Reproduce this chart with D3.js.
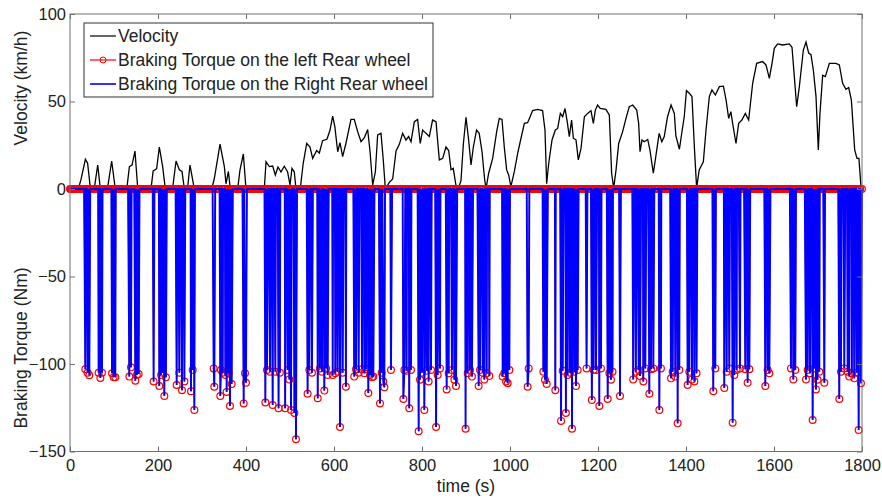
<!DOCTYPE html>
<html>
<head>
<meta charset="utf-8">
<script src="https://cdn.jsdelivr.net/npm/d3@7"></script>
<style>
  body { margin: 0; background: #fff; }
  text { font-family: "Liberation Sans", Arial, sans-serif; }
</style>
</head>
<body>
<div class="chart"></div>
<script>
var margin = {top: 14, right: 20, bottom: 46.5, left: 70}
var width = 882 - margin.left - margin.right;
var height = 498 - margin.top - margin.bottom;

// velocity (km/h)
var velTime = [0, 19, 25, 35, 40, 45.5, 48, 55, 63, 69, 85, 94.7, 103, 129, 135, 141, 147.7, 154,
  184, 189, 197, 203, 210.6, 216.7, 233, 241, 248.5, 254.5, 260, 267, 272.7, 282.6,
  322, 328, 341, 350.8, 354.5, 360, 364.4, 381, 386.4, 394, 400,
  441.6, 445.5, 453, 460.6, 466.7, 472.7, 479.5, 487, 494.6, 500, 504.5, 509.8, 513.6,
  523.5, 530, 538, 545.5, 551.5, 560.6, 566.7, 574, 584, 591, 597, 602, 608.4, 613.6, 619.7, 627,
  638.6, 646, 653.8, 661.4, 669, 676.5, 681.8, 687.9, 694, 699.2, 706.8, 712, 716.7,
  725.8, 733.3, 741, 748.5, 756, 763.6, 769.7, 775, 782.6, 790, 796, 801.5, 809, 816.7, 824, 831.8,
  839.4, 847, 854.5, 860.6, 866, 871, 877, 883, 888.6, 894, 900, 906, 911.4, 916.7, 924, 930, 936.4, 941.7, 945.4,
  951.5, 960.6, 969.7, 975.7, 981.8, 987, 992.4, 997, 1002, 1009.8, 1017.4, 1025, 1032.6, 1040, 1051.5, 1063, 1074, 1079.5, 1083.3,
  1088, 1095.5, 1103, 1108.3, 1114.4, 1119.7, 1125, 1129.5, 1134.8, 1140, 1144, 1150, 1155.3, 1161.4, 1169, 1176.5, 1184, 1189.4, 1194, 1199, 1205, 1218, 1225.7, 1231, 1235.6,
  1241, 1247, 1256, 1263.6, 1271, 1278.8, 1288, 1292.4, 1295.5, 1300, 1305, 1313, 1318, 1325.7, 1331.8, 1339, 1345, 1350.6, 1358, 1366, 1373.5, 1377, 1385, 1391.4, 1396, 1401, 1407.6, 1413.6, 1419, 1424.2,
  1430, 1439.4, 1445.5, 1453, 1459, 1466.7, 1475.8, 1485, 1491, 1497, 1502, 1506, 1513.6, 1519.7, 1527, 1534.8, 1542.4, 1551.5, 1560.6, 1574, 1581.8, 1589.4, 1595.5,
  1600.7, 1608.3, 1619.7, 1634.8, 1640.9, 1646.2, 1651.5, 1657.6, 1666.7, 1672.7, 1678.8, 1684, 1689.4, 1695.5, 1700.7, 1704.5, 1710.6, 1716.7, 1725.8, 1741, 1748.5,
  1756, 1763.6, 1769.7, 1775.8, 1783.4, 1788.6, 1793, 1797.7];
var velValue = [0, 0, 5.5, 17, 14.7, 2.3, 0, 0, 13.7, 0, 0, 16, 0, 0, 12.8, 13.7, 21.7, 0,
  0, 10.3, 11.6, 24, 12.8, 0, 0, 16, 11, 10, 0, 0, 13.7, 0,
  0, 6, 25.7, 12.8, 3, 10, 0, 0, 11, 20, 0,
  0, 15.6, 12.8, 13.1, 8, 12.6, 9.7, 13, 9.7, 2.3, 11.8, 9.7, 0,
  0.4, 14.7, 26, 24, 17.5, 22, 20.6, 27.6, 28.4, 33.7, 41.7, 35.5, 21.3, 26.5, 18.5, 26,
  39.8, 39.8, 32.8, 27, 29.3, 34, 21.7, 2.3, 9.7, 30.9, 31.8, 16.6, 0,
  3.8, 5.7, 21.7, 25.5, 31.8, 28, 30, 27, 38.5, 39.8, 26, 33.7, 31.8, 30, 39.4, 38.5,
  16.6, 17.5, 24, 22, 11, 11.8, 2.3, 0.8, 4.8, 25.7, 41, 28, 13.7, 24, 33.7, 31.8, 21.3, 7, 0,
  9, 17.5, 32.8, 40.4, 39.8, 24, 10.9, 8, 1.3, 9.9, 20.4, 29, 37.5, 37.9, 44.8, 45.5, 44.8, 33.7, 3,
  14.7, 28, 33.7, 34.6, 43.2, 41.3, 46, 39.4, 29.9, 39.4, 29, 28, 16.6, 23.2, 41.3, 43.2, 44.8, 37.5, 45.1, 48, 46, 45.5, 42.3, 9, 0.5,
  10.9, 26, 32.8, 40.4, 47, 48, 45.1, 37.5, 21.3, 28, 27, 28.3, 22.3, 9, 19.4, 31.8, 27, 30, 41.3, 48, 43.2, 30.3, 22.7, 33.7, 41.3, 56.2, 54.7, 52.8, 24, 0.5,
  10.9, 15.6, 33.7, 52.8, 56.6, 53.7, 58.5, 58.8, 50.9, 40.4, 44.2, 37.5, 26, 37.5, 39.4, 43.2, 39.4, 60.4, 71.8, 72.8, 70.9, 63.2, 71.8,
  80.4, 82.9, 82.3, 82.9, 81, 64.2, 47, 58.5, 79.4, 84, 77.7, 76.8, 68, 52.8, 22.3, 43.2, 65, 64.2, 71.8, 71.8, 70.9,
  60.4, 57, 58, 50.9, 22.3, 17.5, 17.5, 1];

// braking events: time (s) and torque (Nm) at the bottom of each pulse
var brakeTime = [34.8, 40, 43.9, 65, 69, 72.7, 95.5, 99.2, 103, 134.8, 138.6, 148.5, 152, 156,
  190, 203, 207, 210.6, 214.4, 218, 242.4, 248.5, 254.5, 260, 275, 278.8, 282.6,
  326.5, 328, 341.6, 343, 347, 353, 356, 360.6, 363.6, 367.4, 394.7, 397.7, 400,
  444, 447.7, 454.5, 460.6, 466.7, 474, 477, 489, 494.7, 498.5, 502.3, 510, 513.6,
  540, 543.9, 550, 563, 568, 572.7, 578, 582, 585.6, 597, 603, 608, 613.6, 619.7, 627,
  646, 650, 656, 663.6, 669, 672.7, 678, 682, 686.4, 689.4, 704.5, 708.3, 712, 714.4, 729.5,
  757.6, 760, 765, 771, 775, 792.4, 795.5, 800, 805.3, 810.6, 815, 820.5, 832, 835.6, 840.9,
  856, 860.6, 868, 873.5, 877.3, 899, 903.8, 909, 913.6, 928.8, 931.8, 937.9, 941.7, 947, 953,
  983.3, 987, 991, 994.7, 998.5, 1040, 1042.4, 1075.8, 1079.5, 1083.3, 1103, 1116, 1119.7,
  1127, 1131, 1136.4, 1141, 1146, 1150, 1153.8, 1174, 1186, 1190, 1195.5, 1203, 1206.8,
  1222, 1225.8, 1229.5, 1233, 1250, 1280, 1286, 1292.4, 1295.5, 1303, 1307.6, 1316.7, 1320.5, 1325.8,
  1339.4, 1343, 1365.9, 1369.7, 1375.7, 1381, 1384.8, 1403.7, 1407.5, 1413.6, 1419, 1424,
  1462, 1466.6, 1487, 1492.4, 1498.4, 1506, 1509.8, 1515, 1522.7, 1534.8, 1540, 1544,
  1580.3, 1585.6, 1589.4, 1638.6, 1643.9, 1648.4, 1672.7, 1676.5, 1681.8, 1687.8, 1691.6, 1695.4, 1699, 1703, 1714.4,
  1748.4, 1752.2, 1759.8, 1767.4, 1771, 1777, 1782.5, 1787.8, 1792.4, 1797.6];
var brakeLeft = [-103, -105, -106.4, -105, -108, -105, -105.3, -107.6, -107.6, -107.2, -101.9, -109.5, -106.3, -105.7,
  -110, -112.6, -106.3, -105, -118.3, -107.6, -112, -105, -115, -110, -115.6, -103.4, -126.3,
  -102.5, -113, -118.3, -103.4, -105, -106.3, -116, -105.3, -124, -111.4, -122.5, -105.3, -110.7,
  -122, -103.4, -104.4, -123.4, -104.4, -125.3, -105, -125.3, -103.4, -108.8, -126.3, -128, -143,
  -117, -103.4, -105, -119.6, -102.5, -104.4, -115.2, -102.5, -106.3, -106.3, -105.3, -104.4, -136, -105, -113,
  -107.2, -103, -105, -103, -105.3, -103, -116.6, -106.3, -107.6, -107.2, -122.5, -105, -110, -113.3, -103.4,
  -120, -103.4, -103.8, -125.3, -103.4, -138.4, -109, -105, -126.3, -103.8, -110, -103.4, -136, -106.3, -102.5,
  -114.5, -105.3, -103.4, -109, -112.6, -137, -105.3, -103.4, -107.2, -112.6, -103.4, -105, -108.8, -105.3, -106.9,
  -107.2, -105.3, -110, -111, -103.4, -113, -102.5, -104.4, -109, -111.4, -115, -132.5, -103.8,
  -128, -106.3, -105, -137, -104.4, -112.6, -103.4, -102.5, -120.6, -103.4, -103.4, -124, -102.5,
  -120, -105.3, -109, -104.4, -118.3, -108.8, -104.4, -103.4, -106.9, -110, -102.5, -117, -103, -102.5,
  -126.3, -102.5, -108.2, -104.4, -107.2, -133.9, -103.4, -112, -104.4, -108.8, -110, -105.3,
  -115.6, -102.5, -113.7, -104.4, -102.5, -133.5, -106.3, -103.4, -102.5, -103, -110.7, -103,
  -112.6, -103.4, -105.3, -102.5, -108.8, -103.4, -108.8, -103.4, -105.3, -132, -102.5, -114.5, -109, -104.4, -110.7,
  -120, -104.4, -102.5, -104.4, -107.2, -105.3, -108.2, -105, -137.7, -111];
// right wheel follows the left one in the picture
var brakeRight = brakeLeft.slice();

var xTicks = [0, 200, 400, 600, 800, 1000, 1200, 1400, 1600, 1800];
var yTicks = [-150, -100, -50, 0, 50, 100];

var svg = d3.select('.chart')
  .append('svg')
    .attr('width', 882)
    .attr('height', 498)
  .append('g')
    .attr('transform', `translate(${margin.left}, ${margin.top})`)

var xScale = d3.scaleLinear().domain([0, 1800]).range([0, width]);
var yScale = d3.scaleLinear().domain([-150, 100]).range([height, 0]);

// torque series: zero between braking events, sampled every 2 s;
// pulses closer than 3 s stay down
function torqueSeries(values) {
  var pts = [];
  var i = 0;
  d3.range(0, 1801, 2).forEach(function(t) {
    while (i < brakeTime.length && brakeTime[i] <= t) {
      pts.push([brakeTime[i], values[i]]);
      i++;
    }
    var near = brakeTime.some(b => Math.abs(b - t) < 0.9);
    var inside = i > 0 && i < brakeTime.length && brakeTime[i] - brakeTime[i - 1] < 3;
    if (!near && !inside) pts.push([t, 0]);
  });
  return pts;
}
var leftSeries = torqueSeries(brakeLeft);
var rightSeries = torqueSeries(brakeRight);

var line = d3.line().x(d => xScale(d[0])).y(d => yScale(d[1]));

// velocity
svg.append('path')
  .datum(d3.zip(velTime, velValue))
  .attr('d', line)
  .attr('fill', 'none')
  .attr('stroke', '#000')
  .attr('stroke-width', 1.3);

// left rear wheel: red line with circle markers
svg.append('path')
  .datum(leftSeries)
  .attr('d', line)
  .attr('fill', 'none')
  .attr('stroke', '#ff0000')
  .attr('stroke-width', 1);

svg.selectAll('circle.left')
  .data(leftSeries)
  .enter()
  .append('circle')
    .attr('class', 'left')
    .attr('cx', d => xScale(d[0]))
    .attr('cy', d => yScale(d[1]))
    .attr('r', 3.4)
    .attr('fill', 'none')
    .attr('stroke', '#ff0000')
    .attr('stroke-width', 1.2);

// right rear wheel: blue line
svg.append('path')
  .datum(rightSeries)
  .attr('d', line)
  .attr('fill', 'none')
  .attr('stroke', '#0000ff')
  .attr('stroke-width', 1.9);

// axes box with inward ticks
var axisColor = '#707070';
function styleAxis(g) {
  g.select('.domain').remove();
  g.selectAll('.tick line').attr('stroke', axisColor);
  g.selectAll('.tick text').attr('fill', '#222').style('font-size', '16.5px');
}

svg.append('g')
  .attr('transform', `translate(0, ${height})`)
  .call(d3.axisBottom(xScale).tickValues(xTicks).tickFormat(d3.format('d')).tickSize(-5).tickPadding(8))
  .call(styleAxis);

svg.append('g')
  .call(d3.axisTop(xScale).tickValues(xTicks).tickSize(-5).tickFormat(''))
  .call(styleAxis);

svg.append('g')
  .call(d3.axisLeft(yScale).tickValues(yTicks).tickFormat(d3.format('d')).tickSize(-5).tickPadding(4))
  .call(styleAxis);

svg.append('g')
  .attr('transform', `translate(${width}, 0)`)
  .call(d3.axisRight(yScale).tickValues(yTicks).tickSize(-5).tickFormat(''))
  .call(styleAxis);

svg.append('rect')
  .attr('width', width)
  .attr('height', height)
  .attr('fill', 'none')
  .attr('stroke', axisColor)
  .attr('stroke-width', 1);

// axis titles
svg.append('text')
  .attr('x', width / 2)
  .attr('y', height + 40)
  .attr('text-anchor', 'middle')
  .style('font-size', '17.5px')
  .attr('fill', '#222')
  .text('time (s)');

svg.append('text')
  .attr('transform', `translate(${-43}, ${88 - margin.top}) rotate(-90)`)
  .attr('text-anchor', 'middle')
  .style('font-size', '17.5px')
  .attr('fill', '#222')
  .text('Velocity (km/h)');

svg.append('text')
  .attr('transform', `translate(${-43}, ${348 - margin.top}) rotate(-90)`)
  .attr('text-anchor', 'middle')
  .style('font-size', '17.5px')
  .attr('fill', '#222')
  .text('Braking Torque (Nm)');

// legend
var legendNames = ['Velocity', 'Braking Torque on the left Rear wheel', 'Braking Torque on the Right Rear wheel'];
var legendColors = ['#000', '#ff0000', '#0000ff'];

var legend = svg.append('g')
  .attr('transform', `translate(${84 - margin.left}, ${23 - margin.top})`);

legend.append('rect')
  .attr('width', 349)
  .attr('height', 74)
  .attr('fill', '#fff')
  .attr('stroke', '#333')
  .attr('stroke-width', 1);

var items = legend.selectAll('g.item')
  .data(legendNames)
  .enter()
  .append('g')
    .attr('class', 'item')
    .attr('transform', (d, i) => `translate(0, ${13 + i * 24})`);

items.append('line')
  .attr('x1', 6)
  .attr('x2', 32)
  .attr('stroke', (d, i) => legendColors[i])
  .attr('stroke-width', (d, i) => i == 2 ? 1.6 : 1.2);

items.filter((d, i) => i == 1)
  .append('circle')
    .attr('cx', 19)
    .attr('r', 3)
    .attr('fill', 'none')
    .attr('stroke', '#ff0000');

items.append('text')
  .attr('x', 34)
  .attr('dy', '0.35em')
  .style('font-size', '17.5px')
  .attr('fill', '#222')
  .text(d => d);
</script>
</body>
</html>
